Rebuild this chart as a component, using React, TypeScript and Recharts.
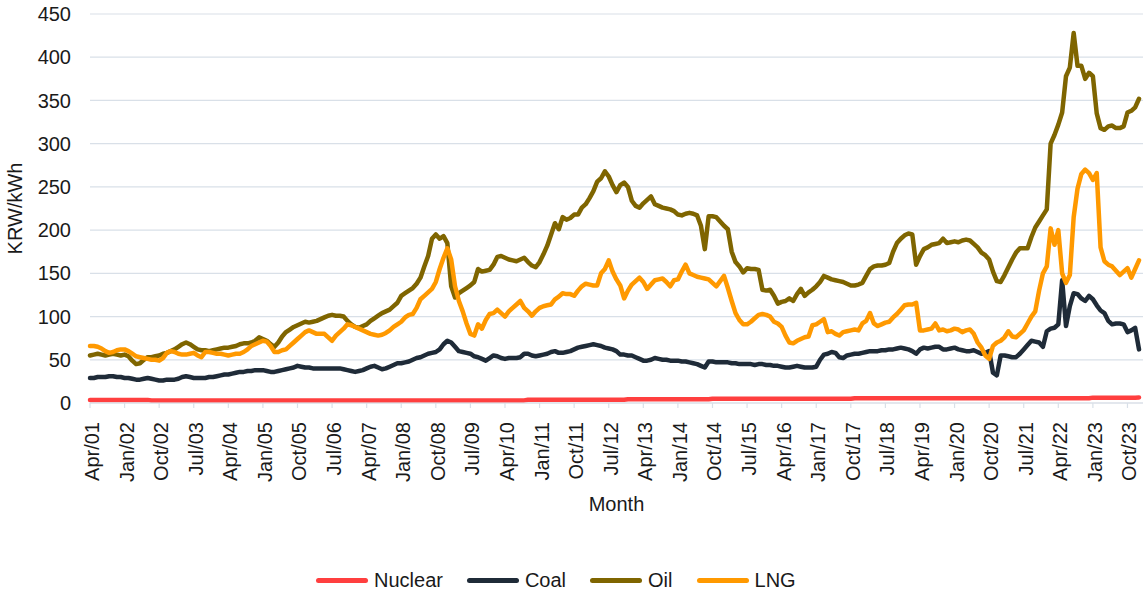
import React from 'react';
import { LineChart, Line, XAxis, YAxis, CartesianGrid } from 'recharts';

// Monthly series, Apr/01 .. Jan/24 (one row per calendar year)
const NUCLEAR = [
  3.6, 3.6, 3.6, 3.6, 3.6, 3.6, 3.6, 3.6, 3.6,
  3.6, 3.6, 3.6, 3.6, 3.6, 3.6, 3.6, 3.0, 3.0, 3.0, 3.0, 3.0,
  3.0, 3.0, 3.0, 3.0, 3.0, 3.0, 3.0, 3.0, 3.0, 3.0, 3.0, 3.0,
  3.0, 3.0, 3.0, 3.0, 3.0, 3.0, 3.0, 3.0, 3.0, 3.0, 3.0, 3.0,
  3.0, 3.0, 3.0, 3.0, 3.0, 3.0, 3.0, 3.0, 3.0, 3.0, 3.0, 3.0,
  3.0, 3.0, 3.0, 3.0, 3.0, 3.0, 3.0, 3.0, 3.0, 3.0, 3.0, 3.0,
  3.0, 3.0, 3.0, 3.0, 3.0, 3.0, 3.0, 3.0, 3.0, 3.0, 3.0, 3.0,
  3.0, 3.0, 3.0, 3.0, 3.0, 3.0, 3.0, 3.0, 3.0, 3.0, 3.0, 3.0,
  3.0, 3.0, 3.0, 3.0, 3.0, 3.0, 3.0, 3.0, 3.0, 3.0, 3.0, 3.0,
  3.0, 3.0, 3.0, 3.0, 3.0, 3.0, 3.0, 3.0, 3.0, 3.8, 3.8, 3.8,
  3.8, 3.8, 3.8, 3.8, 3.8, 3.8, 3.8, 3.8, 3.8, 3.8, 3.8, 3.8,
  3.8, 3.8, 3.8, 3.8, 3.8, 3.8, 3.8, 3.8, 3.8, 3.8, 3.8, 4.4,
  4.4, 4.4, 4.4, 4.4, 4.4, 4.4, 4.4, 4.4, 4.4, 4.4, 4.4, 4.4,
  4.4, 4.4, 4.4, 4.4, 4.4, 4.4, 4.4, 4.4, 4.4, 5.0, 5.0, 5.0,
  5.0, 5.0, 5.0, 5.0, 5.0, 5.0, 5.0, 5.0, 5.0, 5.0, 5.0, 5.0,
  5.0, 5.0, 5.0, 5.0, 5.0, 5.0, 5.0, 5.0, 5.0, 5.0, 5.0, 5.0,
  5.0, 5.0, 5.0, 5.0, 5.0, 5.0, 5.0, 5.0, 5.0, 5.0, 5.6, 5.6,
  5.6, 5.6, 5.6, 5.6, 5.6, 5.6, 5.6, 5.6, 5.6, 5.6, 5.6, 5.6,
  5.6, 5.6, 5.6, 5.6, 5.6, 5.6, 5.6, 5.6, 5.6, 5.6, 5.6, 5.6,
  5.6, 5.6, 5.6, 5.6, 5.6, 5.6, 5.6, 5.6, 5.6, 5.6, 5.6, 5.6,
  5.6, 5.6, 5.6, 5.6, 5.6, 5.6, 5.6, 5.6, 5.6, 5.6, 5.6, 5.6,
  5.6, 5.6, 5.6, 5.6, 5.6, 5.6, 5.6, 5.6, 5.6, 5.6, 5.6, 5.6,
  6.2, 6.2, 6.2, 6.2, 6.2, 6.2, 6.2, 6.2, 6.2, 6.2, 6.2, 6.2,
  6.4,
];

const COAL = [
  29, 29, 30, 30, 30, 31, 31, 30, 30,
  29, 29, 28, 27, 27, 28, 29, 28, 27, 26, 26, 27,
  27, 27, 28, 30, 31, 30, 29, 29, 29, 29, 30, 30,
  31, 32, 33, 33, 34, 35, 36, 36, 37, 37, 38, 38,
  38, 37, 36, 36, 37, 38, 39, 40, 41, 43, 42, 41,
  41, 40, 40, 40, 40, 40, 40, 40, 40, 39, 38, 37,
  36, 37, 38, 40, 42, 43, 41, 39, 40, 42, 44, 46,
  46, 47, 48, 50, 52, 53, 55, 57, 58, 59, 62, 68,
  72, 70, 65, 60, 59, 58, 57, 54, 53, 51, 49, 52,
  55, 54, 52, 51, 52, 52, 52, 53, 57, 57, 55, 54,
  55, 56, 57, 59, 60, 58, 58, 59, 60, 62, 64, 65,
  66, 67, 68, 67, 66, 64, 63, 62, 60, 56, 56, 55,
  55, 53, 51, 49, 49, 50, 52, 51, 50, 50, 49, 49,
  49, 48, 48, 47, 46, 45, 43, 41, 48, 48, 47, 47,
  47, 47, 46, 46, 45, 45, 45, 45, 44, 45, 45, 44,
  44, 43, 43, 42, 41, 41, 42, 43, 42, 41, 41, 41,
  42, 50, 56, 57, 59, 58, 53, 52, 55, 56, 57, 57,
  58, 59, 60, 60, 60, 61, 61, 62, 62, 63, 64, 63,
  62, 60, 57, 62, 64, 63, 64, 65, 65, 62, 62, 63,
  64, 62, 61, 60, 60, 61, 59, 57, 58, 60, 35, 32,
  55, 55, 54, 53, 53, 57, 62, 67, 72, 71, 70, 65,
  83, 86, 87, 91, 142, 89, 112, 127, 126, 121, 118, 124,
  120, 113, 107, 104, 95, 91, 92, 92, 91, 82, 84, 87,
  62,
];

const OIL = [
  55, 56, 57, 56, 55, 56, 57, 56, 55,
  56, 54, 49, 45, 46, 50, 53, 53, 54, 55, 57, 58,
  60, 62, 65, 68, 70, 68, 65, 62, 61, 61, 60, 61,
  62, 63, 64, 64, 65, 66, 68, 69, 69, 70, 72, 76,
  74, 72, 68, 65, 70, 77, 82, 85, 88, 90, 92, 94,
  93, 94, 95, 97, 99, 101, 102, 101, 101, 100, 95, 91,
  88, 87, 89, 91, 95, 98, 101, 104, 106, 108, 112, 116,
  124, 127, 130, 133, 138, 145, 158, 170, 190, 195, 190, 193,
  185, 135, 122, 127, 130, 133, 136, 140, 155, 152, 153, 154,
  160, 169, 170, 168, 166, 165, 164, 166, 168, 163, 159, 157,
  163, 172, 182, 195, 208, 201, 215, 212, 214, 218, 218, 226,
  230, 237, 245, 256, 260, 268, 262, 252, 244, 252, 255, 250,
  234, 228, 226, 231, 235, 239, 230, 228, 226, 225, 224, 222,
  218, 217, 219, 220, 219, 217, 205, 178, 216, 216, 215, 210,
  205, 201, 175, 163, 158, 151, 156, 155, 155, 154, 131, 130,
  131, 124, 115, 117, 118, 121, 118, 126, 132, 124, 128, 131,
  135, 140, 147, 145, 143, 142, 141, 140, 138, 136, 136, 137,
  139, 147, 155, 158, 159, 159, 160, 162, 175, 185, 190, 194,
  196, 195, 160, 170, 178, 180, 183, 184, 185, 190, 185, 186,
  187, 186, 188, 189, 188, 184, 180, 174, 171, 166, 152, 141,
  140, 148, 157, 166, 174, 179, 179, 179, 192, 203, 210, 217,
  224, 300, 310, 322, 336, 378, 388, 428, 390, 390, 375, 382,
  378, 335, 318, 316, 320, 321, 318, 318, 320, 336, 338, 342,
  352,
];

const LNG = [
  66, 66, 65, 63, 60, 58, 59, 61, 62,
  62, 60, 57, 54, 53, 52, 51, 50, 50, 49, 52, 58,
  60, 59, 57, 56, 56, 57, 58, 55, 53, 59, 59, 58,
  57, 57, 56, 55, 56, 57, 57, 59, 62, 66, 68, 70,
  72, 71, 66, 59, 59, 61, 62, 66, 70, 74, 78, 82,
  84, 82, 80, 80, 80, 76, 72, 78, 82, 86, 91, 90,
  88, 86, 84, 82, 80, 79, 78, 79, 81, 84, 88, 91,
  94, 99, 102, 103, 110, 120, 124, 128, 132, 140, 155, 168,
  179, 166, 135, 118, 106, 92, 80, 78, 91, 86, 96, 103,
  104, 108, 104, 100, 106, 110, 114, 118, 110, 106, 101, 106,
  110, 112, 113, 114, 120, 123, 127, 126, 126, 124, 130, 135,
  138, 137, 136, 136, 150, 155, 165, 152, 143, 136, 121, 130,
  137, 141, 145, 140, 132, 137, 142, 143, 144, 140, 135, 142,
  143, 152, 160, 150, 148, 146, 145, 144, 143, 139, 135, 141,
  147, 133, 118, 104, 96, 91, 91, 94, 98, 102, 103, 102,
  100, 94, 92, 88, 78, 70, 69, 72, 74, 76, 77, 90,
  91, 94, 97, 82, 83, 80, 78, 82, 83, 84, 85, 84,
  92, 95, 104, 92, 89, 91, 93, 94, 99, 103, 108, 113,
  114, 114, 116, 84, 84, 85, 86, 92, 84, 85, 83, 84,
  86, 85, 82, 84, 85, 80, 70, 64, 55, 51, 66, 70,
  72, 76, 83, 77, 76, 80, 84, 92, 100, 106, 130, 150,
  158, 202, 183, 200, 150, 139, 148, 215, 248, 265, 270, 266,
  258, 266, 180, 164, 160, 158, 153, 148, 152, 156, 145, 155,
  165,
];

const MONTH_NAMES = ['Jan', 'Feb', 'Mar', 'Apr', 'May', 'Jun', 'Jul', 'Aug', 'Sep', 'Oct', 'Nov', 'Dec'];
const START_YEAR = 2001;
const START_MONTH = 3; // April
const Y_TICKS = [0, 50, 100, 150, 200, 250, 300, 350, 400, 450];

const SERIES = [
  { key: 'nuclear', name: 'Nuclear', color: '#FF3F3F' },
  { key: 'coal', name: 'Coal', color: '#1F2B38' },
  { key: 'oil', name: 'Oil', color: '#7F6500' },
  { key: 'lng', name: 'LNG', color: '#FF9900' },
];

const FONT = '"Liberation Sans", Arial, sans-serif';
const GRID = '#D9E0E8';

const monthLabel = (i: number) => {
  const m = START_MONTH + i;
  const year = START_YEAR + Math.floor(m / 12);
  return `${MONTH_NAMES[m % 12]}/${String(year % 100).padStart(2, '0')}`;
};

const chartData = OIL.map((_, i) => ({
  month: monthLabel(i),
  nuclear: NUCLEAR[i],
  coal: COAL[i],
  oil: OIL[i],
  lng: LNG[i],
}));

const XTick = ({ x, y, payload }: any) => (
  <text
    x={x}
    y={y}
    dx={-12}
    dy="0.45em"
    transform={`rotate(-90, ${x}, ${y})`}
    textAnchor="end"
    fontSize={20}
    fontFamily={FONT}
    fill="#1a1a1a"
  >
    {payload.value}
  </text>
);

export default function App() {
  return (
    <div style={{ position: 'absolute', left: 0, top: 0, width: 1143, height: 592, background: '#fff', fontFamily: FONT }}>
      <LineChart width={1143} height={530} data={chartData} margin={{ top: 14, right: 0, left: 0, bottom: 0 }}>
        <CartesianGrid vertical={false} stroke={GRID} strokeWidth={1.2} />
        <XAxis
          dataKey="month"
          interval={8}
          height={127}
          padding={{ left: 0, right: 4 }}
          axisLine={{ stroke: GRID, strokeWidth: 1.2 }}
          tickLine={{ stroke: GRID, strokeWidth: 1.2 }}
          tickSize={5}
          tick={<XTick />}
          label={{ value: 'Month', position: 'insideBottom', offset: 19, fontSize: 20, fill: '#1a1a1a', fontFamily: FONT }}
        />
        <YAxis
          width={90}
          domain={[0, 450]}
          ticks={Y_TICKS}
          axisLine={false}
          tickLine={false}
          tickMargin={13}
          tick={{ fontSize: 20, fill: '#1a1a1a', fontFamily: FONT }}
          label={{ value: 'KRW/kWh', angle: -90, position: 'insideLeft', offset: 15, fontSize: 20, fill: '#1a1a1a', fontFamily: FONT, style: { textAnchor: 'middle' } }}
        />
        {SERIES.map(s => (
          <Line
            key={s.key}
            type="linear"
            dataKey={s.key}
            name={s.name}
            stroke={s.color}
            strokeWidth={4.5}
            strokeLinejoin="round"
            strokeLinecap="round"
            dot={false}
            isAnimationActive={false}
          />
        ))}
      </LineChart>
      {/* legend */}
      <div style={{ position: 'absolute', top: 568, left: 316, display: 'flex', alignItems: 'center', fontSize: 20, color: '#1a1a1a', lineHeight: '24px' }}>
        {SERIES.map((s, i) => (
          <div key={s.key} style={{ display: 'flex', alignItems: 'center', marginRight: i < SERIES.length - 1 ? 24 : 0 }}>
            <span style={{ display: 'inline-block', width: 52, height: 5, borderRadius: 3, background: s.color, marginRight: 6 }} />
            <span>{s.name}</span>
          </div>
        ))}
      </div>
    </div>
  );
}
